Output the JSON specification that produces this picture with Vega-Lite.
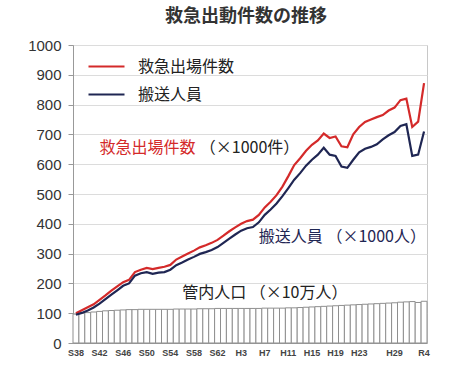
{
  "$schema": "https://vega.github.io/schema/vega-lite/v6.json",
  "width": 354,
  "height": 298,
  "autosize": {"type": "none"},
  "padding": {"left": 73, "top": 45, "right": 26, "bottom": 26},
  "background": "white",
  "title": {"text": "救急出動件数の推移", "font": "Noto Sans CJK JP", "fontSize": 18, "fontWeight": "bold", "color": "#333333", "anchor": "middle", "offset": 12, "dx": -4},
  "config": {
    "view": {"stroke": "#c8c8c8"},
    "font": "Noto Sans CJK JP"
  },
  "datasets": {
    "main": [
      {"year": 1963, "pop": 97, "救急出場件数": 100, "搬送人員": 95},
      {"year": 1964, "pop": 100, "救急出場件数": 110, "搬送人員": 101},
      {"year": 1965, "pop": 102, "救急出場件数": 120, "搬送人員": 109},
      {"year": 1966, "pop": 104, "救急出場件数": 130, "搬送人員": 119},
      {"year": 1967, "pop": 106, "救急出場件数": 145, "搬送人員": 132},
      {"year": 1968, "pop": 108, "救急出場件数": 160, "搬送人員": 147},
      {"year": 1969, "pop": 109, "救急出場件数": 176, "搬送人員": 162},
      {"year": 1970, "pop": 110, "救急出場件数": 190, "搬送人員": 177},
      {"year": 1971, "pop": 111, "救急出場件数": 204, "搬送人員": 192},
      {"year": 1972, "pop": 112, "救急出場件数": 212, "搬送人員": 200},
      {"year": 1973, "pop": 112, "救急出場件数": 238, "搬送人員": 226},
      {"year": 1974, "pop": 113, "救急出場件数": 246, "搬送人員": 234},
      {"year": 1975, "pop": 113, "救急出場件数": 252, "搬送人員": 238},
      {"year": 1976, "pop": 113, "救急出場件数": 248, "搬送人員": 232},
      {"year": 1977, "pop": 113, "救急出場件数": 252, "搬送人員": 236},
      {"year": 1978, "pop": 113, "救急出場件数": 256, "搬送人員": 238},
      {"year": 1979, "pop": 113, "救急出場件数": 262, "搬送人員": 246},
      {"year": 1980, "pop": 114, "救急出場件数": 280, "搬送人員": 261},
      {"year": 1981, "pop": 114, "救急出場件数": 290, "搬送人員": 270},
      {"year": 1982, "pop": 114, "救急出場件数": 300, "搬送人員": 280},
      {"year": 1983, "pop": 114, "救急出場件数": 310, "搬送人員": 289},
      {"year": 1984, "pop": 115, "救急出場件数": 321, "搬送人員": 299},
      {"year": 1985, "pop": 115, "救急出場件数": 328, "搬送人員": 305},
      {"year": 1986, "pop": 115, "救急出場件数": 336, "搬送人員": 312},
      {"year": 1987, "pop": 116, "救急出場件数": 346, "搬送人員": 322},
      {"year": 1988, "pop": 116, "救急出場件数": 360, "搬送人員": 336},
      {"year": 1989, "pop": 116, "救急出場件数": 375, "搬送人員": 350},
      {"year": 1990, "pop": 116, "救急出場件数": 388, "搬送人員": 364},
      {"year": 1991, "pop": 116, "救急出場件数": 400, "搬送人員": 377},
      {"year": 1992, "pop": 116, "救急出場件数": 409, "搬送人員": 385},
      {"year": 1993, "pop": 116, "救急出場件数": 414, "搬送人員": 389},
      {"year": 1994, "pop": 116, "救急出場件数": 430, "搬送人員": 405},
      {"year": 1995, "pop": 117, "救急出場件数": 455, "搬送人員": 430},
      {"year": 1996, "pop": 117, "救急出場件数": 474, "搬送人員": 448},
      {"year": 1997, "pop": 117, "救急出場件数": 496, "搬送人員": 468},
      {"year": 1998, "pop": 117, "救急出場件数": 525, "搬送人員": 493},
      {"year": 1999, "pop": 118, "救急出場件数": 560, "搬送人員": 520},
      {"year": 2000, "pop": 118, "救急出場件数": 597, "搬送人員": 548},
      {"year": 2001, "pop": 119, "救急出場件数": 620, "搬送人員": 570},
      {"year": 2002, "pop": 120, "救急出場件数": 645, "搬送人員": 595},
      {"year": 2003, "pop": 121, "救急出場件数": 665, "搬送人員": 615},
      {"year": 2004, "pop": 122, "救急出場件数": 680, "搬送人員": 632},
      {"year": 2005, "pop": 123, "救急出場件数": 703, "搬送人員": 655},
      {"year": 2006, "pop": 124, "救急出場件数": 688, "搬送人員": 632},
      {"year": 2007, "pop": 125, "救急出場件数": 693, "搬送人員": 628},
      {"year": 2008, "pop": 126, "救急出場件数": 660, "搬送人員": 592},
      {"year": 2009, "pop": 127, "救急出場件数": 657, "搬送人員": 588},
      {"year": 2010, "pop": 128, "救急出場件数": 700, "搬送人員": 615},
      {"year": 2011, "pop": 129, "救急出場件数": 725, "搬送人員": 640},
      {"year": 2012, "pop": 130, "救急出場件数": 742, "搬送人員": 652},
      {"year": 2013, "pop": 131, "救急出場件数": 750, "搬送人員": 658},
      {"year": 2014, "pop": 132, "救急出場件数": 758, "搬送人員": 667},
      {"year": 2015, "pop": 133, "救急出場件数": 765, "搬送人員": 683},
      {"year": 2016, "pop": 134, "救急出場件数": 780, "搬送人員": 697},
      {"year": 2017, "pop": 135, "救急出場件数": 790, "搬送人員": 708},
      {"year": 2018, "pop": 137, "救急出場件数": 815, "搬送人員": 728},
      {"year": 2019, "pop": 138, "救急出場件数": 820, "搬送人員": 734},
      {"year": 2020, "pop": 139, "救急出場件数": 725, "搬送人員": 628},
      {"year": 2021, "pop": 136, "救急出場件数": 743, "搬送人員": 632},
      {"year": 2022, "pop": 140, "救急出場件数": 872, "搬送人員": 710}
    ]
  },
  "layer": [
    {
      "data": {"name": "main"},
      "mark": {"type": "bar", "fill": "white", "stroke": "#8f8f8f", "strokeWidth": 1},
      "encoding": {
        "x": {
          "field": "year", "type": "ordinal",
          "scale": {"paddingInner": 0, "paddingOuter": 0},
          "axis": {
            "values": [1963, 1967, 1971, 1975, 1979, 1983, 1987, 1991, 1995, 1999, 2003, 2007, 2011, 2017, 2022],
            "labelExpr": "datum.value < 1989 ? 'S' + (datum.value - 1925) : datum.value < 2019 ? 'H' + (datum.value - 1988) : 'R' + (datum.value - 2018)",
            "title": null, "ticks": false, "labelAngle": 0, "grid": false, "labelOverlap": false,
            "labelFont": "Liberation Sans", "labelFontSize": 9, "labelFontWeight": "bold", "labelColor": "#444444",
            "labelPadding": 5, "domainColor": "#999999"
          }
        },
        "y": {
          "field": "pop", "type": "quantitative",
          "scale": {"domain": [0, 1000], "nice": false},
          "axis": {
            "tickCount": 10, "format": "d", "labelOverlap": false, "labelFlush": false,
            "title": null, "tickSize": 5, "tickColor": "#999999", "domainColor": "#999999",
            "grid": true, "gridColor": "#dcdcdc", "labelFont": "Liberation Sans", "labelFontSize": 15,
            "labelColor": "#333333", "labelPadding": 7
          }
        }
      }
    },
    {
      "data": {"name": "main"},
      "transform": [{"fold": ["救急出場件数", "搬送人員"], "as": ["series", "value"]}],
      "mark": {"type": "line", "strokeWidth": 2.2},
      "encoding": {
        "x": {"field": "year", "type": "ordinal"},
        "y": {"field": "value", "type": "quantitative"},
        "color": {
          "field": "series", "type": "nominal",
          "scale": {"domain": ["救急出場件数", "搬送人員"], "range": ["#d42a2a", "#1f2653"]},
          "legend": {
            "orient": "none", "legendX": 14, "legendY": 2, "title": null,
            "symbolType": "stroke", "symbolSize": 1296, "symbolStrokeWidth": 2.2,
            "labelFont": "Noto Sans CJK JP", "labelFontSize": 16, "labelColor": "#222222",
            "labelOffset": 12, "rowPadding": -16, "padding": 0
          }
        }
      }
    },
    {
      "data": {"values": [{"year": 1967, "v": 654, "label": "救急出場件数"}]},
      "mark": {"type": "text", "align": "left", "baseline": "middle", "fontSize": 16, "color": "#d42a2a"},
      "encoding": {"x": {"field": "year", "type": "ordinal"}, "y": {"field": "v", "type": "quantitative"}, "text": {"field": "label"}}
    },
    {
      "data": {"values": [{"year": 1984, "v": 654, "label": "（×1000件）"}]},
      "mark": {"type": "text", "align": "left", "baseline": "middle", "fontSize": 16, "color": "#222222"},
      "encoding": {"x": {"field": "year", "type": "ordinal"}, "y": {"field": "v", "type": "quantitative"}, "text": {"field": "label"}}
    },
    {
      "data": {"values": [{"year": 1994, "v": 356, "label": "搬送人員 （×1000人）"}]},
      "mark": {"type": "text", "align": "left", "baseline": "middle", "fontSize": 16, "color": "#1f2653"},
      "encoding": {"x": {"field": "year", "type": "ordinal"}, "y": {"field": "v", "type": "quantitative"}, "text": {"field": "label"}}
    },
    {
      "data": {"values": [{"year": 1981, "v": 168, "label": "管内人口 （×10万人）"}]},
      "mark": {"type": "text", "align": "left", "baseline": "middle", "fontSize": 16, "color": "#222222"},
      "encoding": {"x": {"field": "year", "type": "ordinal"}, "y": {"field": "v", "type": "quantitative"}, "text": {"field": "label"}}
    }
  ]
}
